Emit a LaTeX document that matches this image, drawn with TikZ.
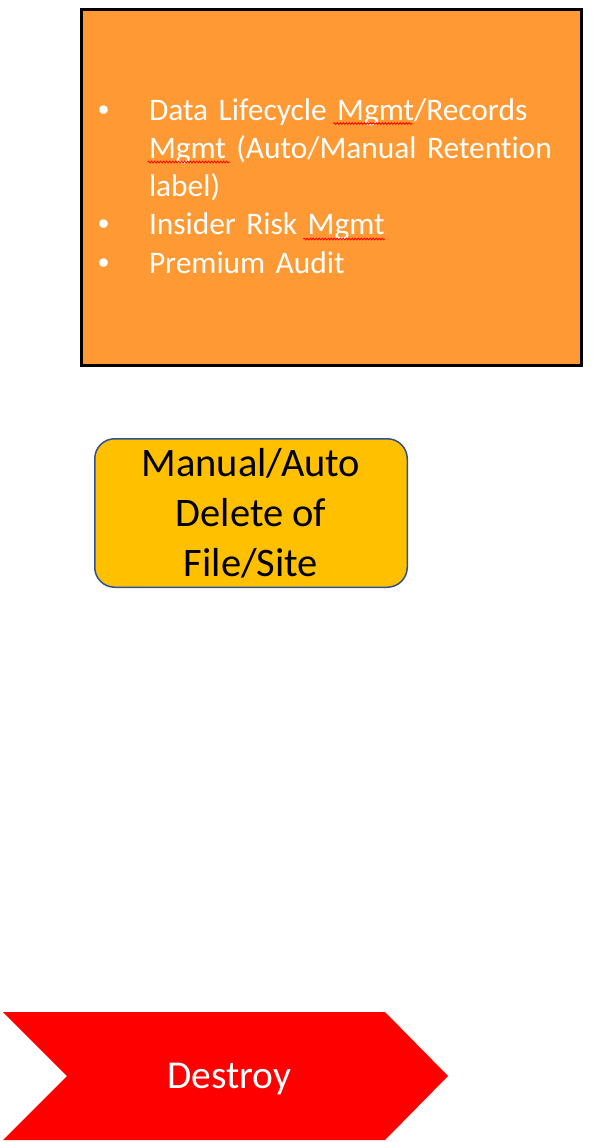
\documentclass[tikz,border=0pt]{standalone}
\usepackage{fontspec}
\setmainfont{Carlito}[Ligatures=NoCommon]
\newfontfamily\bulletfont{Liberation Sans}
\usetikzlibrary{decorations.pathmorphing}
\definecolor{boxorange}{HTML}{FF9933}
\definecolor{delyellow}{HTML}{FFC000}
\definecolor{delblue}{HTML}{2F528F}
\definecolor{chevred}{HTML}{FF0000}
\newcommand{\lcmbullet}{\makebox[51pt][l]{\bulletfont •}}
\begin{document}
\begin{tikzpicture}[x=1pt,y=1pt,
  lcmbox/.style={draw=black,line width=3pt,fill=boxorange,minimum height=356pt,
    text width=467pt,inner xsep=16.5pt,inner ysep=0pt,align=left,text=white,
    font=\fontsize{31.4}{38.3}\selectfont},
  delbox/.style={draw=delblue,line width=1.5pt,fill=delyellow,rounded corners=20pt,
    minimum width=312.5pt,minimum height=148.5pt,align=center,
    font=\fontsize{40.5}{50}\selectfont},
  chevron/.style={fill=chevred},
  destroytext/.style={text=white,font=\fontsize{39.5}{47}\selectfont,inner sep=0pt},
  spellwave/.style={draw=red,line width=0.8pt,decorate,
    decoration={snake,segment length=3pt,amplitude=0.9pt}}]
\useasboundingbox (0,0) rectangle (594,-1142);

\node[lcmbox] (lcm) at (331.5,-187.5) {%
  \raisebox{-1.5pt}[\height][\depth]{%
  \begin{tabular}{@{}l@{}l@{}}
  \lcmbullet & Data Lifecycle Mgmt/Records\\
   & Mgmt (Auto/Manual Retention\\
   & label)\\
  \lcmbullet & Insider Risk Mgmt\\
  \lcmbullet & Premium Audit
  \end{tabular}}};

\draw[spellwave] (333.3,-123.5) -- (412.3,-123.5);
\draw[spellwave] (147.7,-162) -- (230,-162);
\draw[spellwave] (303.3,-239) -- (385,-239);

\node[delbox] (del) at (251,-513) {Manual/Auto\\Delete of\\File/Site};

\coordinate (c1) at (3,-1012);
\coordinate (c2) at (385,-1012);
\coordinate (c3) at (448,-1076);
\coordinate (c4) at (385,-1140);
\coordinate (c5) at (3,-1140);
\coordinate (c6) at (67,-1076);
\fill[chevron] (c1) -- (c2) -- (c3) -- (c4) -- (c5) -- (c6) -- cycle;
\node[destroytext,anchor=base] (destroy) at (229.5,-1088) {Destroy};
\end{tikzpicture}
\end{document}
